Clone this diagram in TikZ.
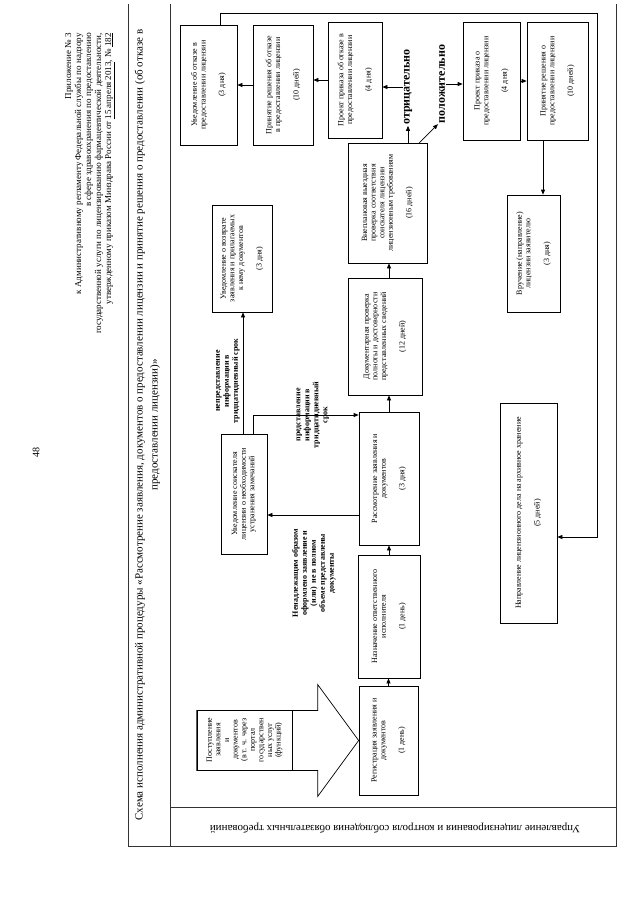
\documentclass[tikz,border=0pt]{standalone}
\usepackage{fontspec}
\setmainfont{Liberation Serif}
\usepackage{graphicx}
\usetikzlibrary{arrows.meta,calc}
\newcommand{\bxfont}{\fontsize{8}{8.6}\selectfont}
\newcommand{\mkbox}[6]{%
  \pgfmathsetmacro{\mkbw}{#4-#2}%
  \pgfmathsetmacro{\mkbh}{#5-#3}%
  \pgfmathsetmacro{\mktw}{\mkbh-8}%
  \node[box, minimum width=\mkbw pt, minimum height=\mkbh pt] (#1) at ({(#2+#4)/2},{(#3+#5)/2})
   {\rotatebox{90}{\begin{minipage}{\mktw pt}\centering\bxfont #6\end{minipage}}};}
\begin{document}
\begin{tikzpicture}[x=1pt,y=-1pt,
  box/.style={draw, line width=0.7pt, inner sep=0pt},
  arr/.style={-{Triangle[length=5pt,width=4pt]}, line width=0.7pt},
  frame/.style={line width=0.6pt, black!80},
  lbl/.style={inner sep=0pt, font=\fontsize{8}{9}\selectfont\bfseries},
  big/.style={inner sep=1pt, font=\fontsize{12}{12}\selectfont\bfseries}]
\useasboundingbox (0,0) rectangle (640,905);
% page number, header, title
\node[font=\fontsize{10}{12}\selectfont] (pg) at (36,452) {\rotatebox{90}{48}};
\node[anchor=north west, inner sep=0pt, font=\fontsize{9}{10}\selectfont] (hdr) at (64,33)
 {\rotatebox{90}{\begin{tabular}{@{}r@{}}Приложение № 3\\
 к Административному регламенту Федеральной службы по надзору\\
 в сфере здравоохранения по предоставлению\\
 государственной услуги по лицензированию фармацевтической деятельности,\\
 утвержденному приказом Минздрава России от \underline{15 апреля 2013}, № \underline{182}\end{tabular}}};
% table frame
\draw[frame] (128,4) -- (128,846) -- (616,846) -- (616,4);
\draw[frame] (170,4) -- (170,846);
\draw[frame] (170,807) -- (616,807);
\node[inner sep=0pt, font=\fontsize{11}{15}\selectfont] (title) at (147,425)
 {\rotatebox{90}{\begin{tabular}{@{}c@{}}Схема исполнения административной процедуры «Рассмотрение заявления, документов о предоставлении лицензии и принятие решения о предоставлении (об отказе в\\
 предоставлении лицензии)»\end{tabular}}};
\node[font=\fontsize{11}{13}\selectfont] (lane) at (395,828)
 {\rotatebox{180}{Управление лицензирования и контроля соблюдения обязательных требований}};
% boxes
\mkbox{Botkuv}{180}{25}{237}{145}{Уведомление об отказе в\\предоставлении лицензии\\[10pt](3 дня)}
\mkbox{Botkprin}{253}{25}{313}{145}{Принятие решения об отказе\\в предоставлении лицензии\\[10pt](10 дней)}
\mkbox{Botkpr}{328}{22}{382}{138}{Проект приказа об отказе в\\предоставлении лицензии\\[10pt](4 дня)}
\mkbox{Bvnepl}{348}{143}{427}{263}{Внеплановая выездная\\проверка соответствия\\соискателя лицензии\\лицензионным требованиям\\[10pt](16 дней)}
\mkbox{Bpredpr}{463}{22}{520}{140}{Проект приказа о\\предоставлении лицензии\\[10pt](4 дня)}
\mkbox{Bpredprin}{527}{22}{588}{140}{Принятие решения о\\предоставлении лицензии\\[10pt](10 дней)}
\mkbox{Bvruch}{507}{195}{560}{312}{Вручение (направление)\\лицензии заявителю\\[10pt](3 дня)}
\mkbox{Bnapr}{500}{403}{557}{623}{Направление лицензионного дела на архивное хранение\\[10pt](5 дней)}
\mkbox{Bdoc}{348}{278}{422}{395}{Документарная проверка\\полноты и достоверности\\представленных сведений\\[10pt](12 дней)}
\mkbox{Brass}{359}{412}{419}{545}{Рассмотрение заявления и\\документов\\[10pt](3 дня)}
\mkbox{Buvs}{221}{434}{267}{554}{Уведомление соискателя\\лицензии о необходимости\\устранения замечаний}
\mkbox{Buvoz}{212}{205}{272}{312}{Уведомление о возврате\\заявления и прилагаемых\\к нему документов\\[10pt](3 дня)}
\mkbox{Bnaz}{358}{555}{420}{678}{Назначение ответственного\\исполнителя\\[10pt](1 день)}
\mkbox{Breg}{359}{686}{418}{795}{Регистрация заявления и\\документов\\[10pt](1 день)}
% big incoming arrow
\coordinate (tip) at (Breg.west);
\draw[line width=0.7pt] ($(tip)+(-162,-30)$) -- ($(tip)+(-41,-30)$) -- ($(tip)+(-41,-56)$) -- (tip)
  -- ($(tip)+(-41,56)$) -- ($(tip)+(-41,30)$) -- ($(tip)+(-162,30)$) -- cycle;
\mkbox{Bpost}{197}{710}{292}{770}{Поступление\\заявления\\и\\документов\\(в т. ч. через\\портал\\государствен\\ных услуг\\(функций)}
% labels
\node[big] (Lneg) at (408,87) {\rotatebox{90}{отрицательно}};
\node[big] (Lpos) at (442,84) {\rotatebox{90}{положительно}};
\node[lbl] (L1) at (314,573) {\rotatebox{90}{\begin{tabular}{@{}c@{}}Ненадлежащим образом\\оформлено заявление и\\(или)\ \ не в полном\\объеме представлены\\документы\end{tabular}}};
\node[lbl] (L2) at (312,415) {\rotatebox{90}{\begin{tabular}{@{}c@{}}представление\\информации в\\тридцатидневный\\срок\end{tabular}}};
\node[lbl] (L3) at (227,381) {\rotatebox{90}{\begin{tabular}{@{}c@{}}непредставление\\информации в\\тридцатидневный срок\end{tabular}}};
% connectors
\draw[arr] (Breg.north) -- (Breg.north |- Bnaz.south);
\draw[arr] (Bnaz.north) -- (Bnaz.north |- Brass.south);
\draw[arr] (Brass.north) -- (Brass.north |- Bdoc.south);
\draw[arr] (Bdoc.north -| Brass.north) -- (Brass.north |- Bvnepl.south);
\draw[arr] (Bvnepl.north -| Lneg) -- (Lneg.south);
\draw[arr] (Lneg.west) -- (Lneg.west -| Botkpr.east);
\draw[arr] (Botkpr.west) -- (Botkpr.west -| Botkprin.east);
\draw[arr] (Botkprin.west) -- (Botkprin.west -| Botkuv.east);
\draw[arr] ([xshift=-8pt]Bvnepl.north east) -- (Lpos.south west);
\draw[arr] (Lpos.east) -- (Lpos.east -| Bpredpr.west);
\draw[arr] (Bpredpr.east) -- (Bpredpr.east -| Bpredprin.west);
\coordinate (cx1) at (543,0);
\draw[arr] (Bpredprin.south -| cx1) -- (Bvruch.north -| cx1);
\coordinate (cu) at (220,13);
\coordinate (cr) at (597,13);
\draw[arr] (Botkuv.north -| cu) -- (cu) -- (cr) |- ([yshift=-24pt]Bnapr.east);
\coordinate (cy1) at (0,515);
\draw[arr] (Brass.west |- cy1) -- (Buvs.east |- cy1);
\coordinate (cy2) at (253,415);
\draw[arr] (Buvs.north -| cy2) -- (cy2) -- (cy2 -| Brass.west);
\coordinate (cx3) at (243,0);
\draw[arr] (Buvs.north -| cx3) -- (Buvoz.south -| cx3);
\end{tikzpicture}
\end{document}
